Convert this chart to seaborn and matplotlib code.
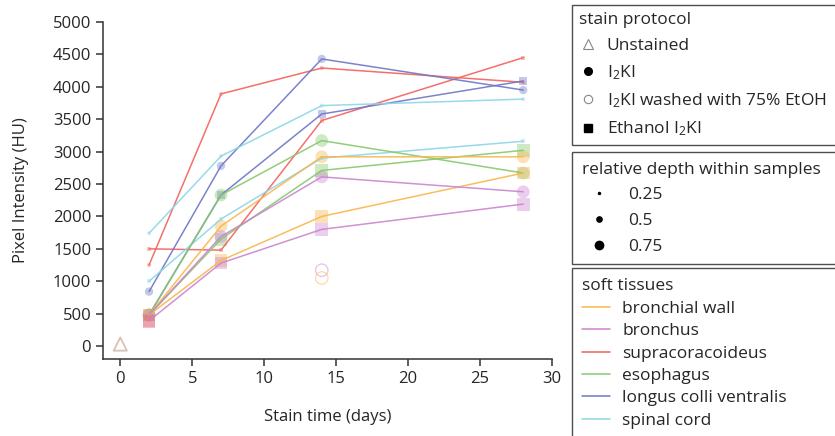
import pandas as pd
import seaborn as sns
import matplotlib.pyplot as plt
from matplotlib.lines import Line2D

# --- data ---
days = [2, 7, 14, 28]
tissues = ['bronchial wall', 'bronchus', 'supracoracoideus', 'esophagus',
           'longus colli ventralis', 'spinal cord']
tissue_colors = ['#f9b64c', '#cb85cd', '#f3605a', '#86c96c', '#6d76c6', '#8cd7e6']

series_tissue = ['supracoracoideus', 'supracoracoideus', 'longus colli ventralis',
                 'longus colli ventralis', 'spinal cord', 'spinal cord',
                 'esophagus', 'esophagus', 'bronchial wall', 'bronchial wall',
                 'bronchus', 'bronchus']
series_protocol = ['I2KI', 'Ethanol I2KI', 'I2KI', 'Ethanol I2KI', 'I2KI', 'Ethanol I2KI',
                   'I2KI', 'Ethanol I2KI', 'I2KI', 'Ethanol I2KI', 'I2KI', 'Ethanol I2KI']
series_depth = [0.25, 0.25, 0.5, 0.5, 0.25, 0.25, 0.75, 0.75, 0.75, 0.75, 0.75, 0.75]
series_values = [
    [1250, 3890, 4290, 4070],
    [1500, 1480, 3480, 4450],
    [840, 2780, 4430, 3950],
    [480, 2330, 3580, 4090],
    [1740, 2930, 3710, 3810],
    [1000, 1960, 2900, 3160],
    [480, 2330, 3170, 2670],
    [480, 1650, 2710, 3020],
    [480, 1850, 2920, 2920],
    [480, 1320, 2000, 2670],
    [480, 1690, 2610, 2380],
    [390, 1280, 1800, 2190],
]

# single points
extra_tissue = ['supracoracoideus']
extra_day = [2]
extra_value = [380]

washed_tissue = ['bronchus', 'bronchial wall']
washed_day = [14, 14]
washed_value = [1170, 1050]

unstained_day = [0]
unstained_value = [30]

rows = []
for i, vals in enumerate(series_values):
    for d, v in zip(days, vals):
        rows.append({'series': i, 'day': d, 'value': v, 'tissue': series_tissue[i],
                     'protocol': series_protocol[i], 'depth': series_depth[i]})
df = pd.DataFrame(rows)
pts = pd.concat([df, pd.DataFrame({'series': -1, 'day': extra_day, 'value': extra_value,
                                   'tissue': extra_tissue, 'protocol': 'Ethanol I2KI',
                                   'depth': 0.75})], ignore_index=True)
washed = pd.DataFrame({'day': washed_day, 'value': washed_value, 'tissue': washed_tissue})
unstained = pd.DataFrame({'day': unstained_day, 'value': unstained_value})

pal = dict(zip(tissues, tissue_colors))

sns.set_style('ticks')
plt.rcParams['font.family'] = ['Open Sans', 'DejaVu Sans']
plt.rcParams['mathtext.default'] = 'regular'

fig = plt.figure(figsize=(8.35, 4.36), dpi=100)
ax = fig.add_axes([103 / 835, 1 - 359 / 436, (552 - 103) / 835, (359 - 22) / 436])

sns.scatterplot(data=pts, x='day', y='value', hue='tissue', palette=pal,
                style='protocol', markers={'I2KI': 'o', 'Ethanol I2KI': 's'},
                size='depth', sizes={0.25: 9, 0.5: 36, 0.75: 85},
                alpha=0.4, linewidth=0, legend=False, ax=ax)

sns.scatterplot(data=washed, x='day', y='value', hue='tissue', palette=pal,
                s=80, alpha=0.45, legend=False, ax=ax)
coll = ax.collections[-1]
coll.set_edgecolors(coll.get_facecolors())
coll.set_facecolors('none')
coll.set_linewidth(1.0)

sns.scatterplot(data=unstained, x='day', y='value', color='#c9a896', marker='^',
                s=90, alpha=0.7, legend=False, ax=ax)
coll = ax.collections[-1]
coll.set_edgecolors(coll.get_facecolors())
coll.set_facecolors('none')
coll.set_linewidth(1.3)

sns.lineplot(data=df, x='day', y='value', hue='tissue', palette=pal, units='series',
             estimator=None, sort=False, lw=1.1, alpha=0.9, legend=False, ax=ax)

ax.set_xlim(-1.2, 30)
ax.set_ylim(-200, 5000)
ax.set_xticks(range(0, 31, 5))
ax.set_yticks(range(0, 5001, 500))
sns.despine(ax=ax)
for s in ['left', 'bottom']:
    ax.spines[s].set_color('#333333')
    ax.spines[s].set_linewidth(1.1)
ax.tick_params(labelsize=12, length=5, width=1.1, color='#333333')
ax.set_xlabel('Stain time (days)', fontsize=12, labelpad=16)
ax.set_ylabel('Pixel Intensity (HU)', fontsize=12, labelpad=17)

# --- legends (boxes run off the right edge, as in the original) ---
leg_kw = dict(loc='upper left', frameon=True, fancybox=False, edgecolor='#222222',
              fontsize=12.5, title_fontsize=12.5, alignment='left', borderaxespad=0,
              mode='expand')
box_w = 280 / 835

h1 = [Line2D([], [], ls='', marker='^', mfc='none', mec='#888888', ms=7, mew=0.8),
      Line2D([], [], ls='', marker='o', color='black', ms=5.5),
      Line2D([], [], ls='', marker='o', mfc='none', mec='#888888', ms=6, mew=0.8),
      Line2D([], [], ls='', marker='s', color='black', ms=5.5)]
l1 = fig.legend(h1, ['Unstained', 'I$_2$KI', 'I$_2$KI washed with 75% EtOH', 'Ethanol I$_2$KI'],
                title='stain protocol', bbox_to_anchor=(572 / 835, 1 - 5 / 436, box_w, 0),
                labelspacing=0.55, handlelength=1.0, handletextpad=0.6, borderpad=0.4,
                **leg_kw)
l1.get_frame().set_linewidth(1.0)

h2 = [Line2D([], [], ls='', marker='o', color='black', ms=ms) for ms in [1.5, 3.8, 6]]
l2 = fig.legend(h2, ['0.25', '0.5', '0.75'], title='relative depth within samples',
                bbox_to_anchor=(572 / 835, 1 - 152 / 436, box_w, 0),
                labelspacing=0.55, handlelength=2.0, handletextpad=0.7, borderpad=0.55,
                **leg_kw)
l2.get_frame().set_linewidth(1.0)

h3 = [Line2D([], [], color=c, lw=1.1) for c in tissue_colors]
l3 = fig.legend(h3, tissues, title='soft tissues',
                bbox_to_anchor=(572 / 835, 1 - 268 / 436, box_w, 0),
                labelspacing=0.36, handlelength=1.6, handletextpad=0.7, borderpad=0.6,
                **leg_kw)
l3.get_frame().set_linewidth(1.0)

fig.savefig('out.png', dpi=100)
